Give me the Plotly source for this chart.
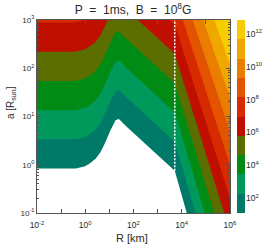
import numpy as np
import plotly.graph_objects as go

# ---------------- data ----------------
# axes are log10 R [km] (x) and log10 a [R_sun] (y)
x_range = [-2, 6]
y_range = [-1, 3]
x_tick_vals = [-2, -1, 0, 1, 2, 3, 4, 5, 6]
x_tick_text = ['10<sup>-2</sup>', '', '10<sup>0</sup>', '', '10<sup>2</sup>', '',
               '10<sup>4</sup>', '', '10<sup>6</sup>']
y_tick_vals = [-1, 0, 1, 2, 3]
y_tick_text = ['10<sup>-1</sup>', '10<sup>0</sup>', '10<sup>1</sup>',
               '10<sup>2</sup>', '10<sup>3</sup>']
minor_mult = [2, 3, 4, 5, 6, 7, 8, 9]

# lowest contour (lower edge of the teal band)
edge_logR = [-2.0, -0.4, 0.0, 0.2, 0.42, 0.625, 0.833, 1.04, 1.25, 1.39, 1.67, 3.71]
edge_loga = [-0.08, -0.08, -0.03, 0.03, 0.12, 0.256, 0.465, 0.71, 0.917, 0.95, 0.81, -0.125]
band_step_loga = 0.606      # vertical distance between successive contours
right_slope_low = 1.76      # steepness of the lowest contour right of the dotted line
right_slope_high = 1.42     # steepness of the highest contour right of the dotted line

# colour levels (log10 of the colour-bar quantity): 10 bands
level_log = [1.1, 2.275, 3.45, 4.625, 5.8, 6.975, 8.15, 9.325, 10.5, 11.675, 12.85]
band_colors = ['#007a68', '#00995c', '#008c14', '#5c6e00', '#bf0f00',
               '#d82a00', '#e25400', '#eb7e00', '#f0a700', '#f5cd00']
cbar_tick_vals = [2, 4, 6, 8, 10, 12]
cbar_tick_text = ['10<sup>2</sup>', '10<sup>4</sup>', '10<sup>6</sup>',
                  '10<sup>8</sup>', '10<sup>10</sup>', '10<sup>12</sup>']

# ---------------- field on a grid ----------------
X = np.linspace(x_range[0], x_range[1], 641)
Y = np.linspace(y_range[0], y_range[1], 321)
XX, YY = np.meshgrid(X, Y)
xd = edge_logR[-1]
c0 = edge_loga[-1]
n_top = len(level_log) - 2
s1 = (right_slope_high - right_slope_low) / n_top
edge = np.interp(XX, edge_logR, edge_loga)
n_left = (YY - edge) / band_step_loga
dX = np.clip(XX - xd, 0, None)
n_right = (YY - c0 + right_slope_low * dX) / (band_step_loga - s1 * dX)
nlev = np.where(XX <= xd, n_left, n_right)
dlev = level_log[1] - level_log[0]
Z = level_log[0] + nlev * dlev

# stepped colour scale: white below the lowest contour, then the 10 bands
fill_colors = ['#ffffff'] + band_colors
ncol = len(fill_colors)
cs = []
for i, c in enumerate(fill_colors):
    lo = max(0.0, (i - 0.5) / (ncol - 1))
    hi = min(1.0, (i + 0.5) / (ncol - 1))
    cs.append([lo, c])
    cs.append([hi, c])

fig = go.Figure()
fig.add_trace(go.Contour(
    x=X, y=Y, z=Z,
    colorscale=cs, showscale=False, autocontour=False,
    contours=dict(start=level_log[0], end=level_log[n_top] + dlev * 0.01,
                  size=dlev, coloring='fill', showlines=False),
    line=dict(width=0), hoverinfo='skip'))

# dotted white line
fig.add_trace(go.Scatter(
    x=[xd, xd], y=[c0, y_range[1]], mode='lines',
    line=dict(color='white', width=1.5, dash='2px,1.5px'), hoverinfo='skip'))

# colour bar drawn as a heatmap on its own axes
nb = len(band_colors)
cb_cs = []
for i, c in enumerate(band_colors):
    cb_cs.append([i / nb, c])
    cb_cs.append([(i + 1) / nb, c])
fig.add_trace(go.Heatmap(
    x=[0, 1], y=level_log, z=[[i] for i in range(nb)],
    colorscale=cb_cs, zmin=-0.5, zmax=nb - 0.5, showscale=False,
    xaxis='x2', yaxis='y2', hoverinfo='skip'))

W, H = 270, 249
L, R, T, B = 37, 0, 20, 36
pw = W - L - R
ph = H - T - B
plot_w = 193

axcol = '#555555'
txtcol = '#2a2a2a'
fig.update_layout(
    width=W, height=H, margin=dict(l=L, r=R, t=T, b=B, autoexpand=False),
    paper_bgcolor='white', plot_bgcolor='white', showlegend=False,
    font=dict(family='Liberation Sans, Arial, sans-serif', size=8, color=txtcol),
    title=dict(text='P\u00a0\u00a0=\u00a0\u00a01ms,\u00a0\u00a0B\u00a0\u00a0=\u00a0\u00a010<sup>8</sup>G',
               x=133 / W, y=1 - 10 / H, xanchor='center', yanchor='middle',
               font=dict(size=12, color=txtcol)),
    xaxis=dict(domain=[0, plot_w / pw], range=x_range, tickvals=x_tick_vals,
               ticktext=x_tick_text, ticks='inside', ticklen=4, tickcolor=axcol,
               ticklabelstandoff=4, tickfont=dict(size=8.5),
               showline=True, linecolor=axcol, linewidth=1, mirror='ticks',
               showgrid=False, zeroline=False, automargin=False),
    yaxis=dict(range=y_range, tickvals=y_tick_vals, ticktext=y_tick_text,
               ticks='inside', ticklen=4, tickcolor=axcol,
               minor=dict(tickvals=[float(np.log10(m * 10.0 ** e)) for e in range(-1, 3) for m in minor_mult],
                          ticks='inside', ticklen=2, tickcolor=axcol),
               showline=True, linecolor=axcol, linewidth=1, mirror='ticks',
               showgrid=False, zeroline=False, automargin=False),
    xaxis2=dict(domain=[(237 - L) / pw, (245 - L) / pw], range=[0, 1], anchor='y2',
                visible=False),
    yaxis2=dict(domain=[0, 1], anchor='x2', side='right',
                range=[level_log[0], level_log[-1]], tickvals=cbar_tick_vals,
                ticktext=cbar_tick_text, ticks='', showline=False, showgrid=False,
                zeroline=False, tickfont=dict(size=8.5), automargin=False),
    annotations=[
        dict(text='R [km]', xref='paper', yref='paper',
             x=(132 - L) / pw, y=1 - (237.5 - T) / ph, showarrow=False,
             xanchor='center', yanchor='middle', font=dict(size=11, color=txtcol)),
        dict(text='a [R<sub>sun</sub>]', xref='paper', yref='paper',
             x=(11 - L) / pw, y=1 - (103 - T) / ph, showarrow=False, textangle=-90,
             xanchor='center', yanchor='middle', font=dict(size=10, color=txtcol)),
    ],
)

fig.write_html('out.html', config={'displayModeBar': False, 'staticPlot': True},
               post_script="document.body.style.margin='0';")
